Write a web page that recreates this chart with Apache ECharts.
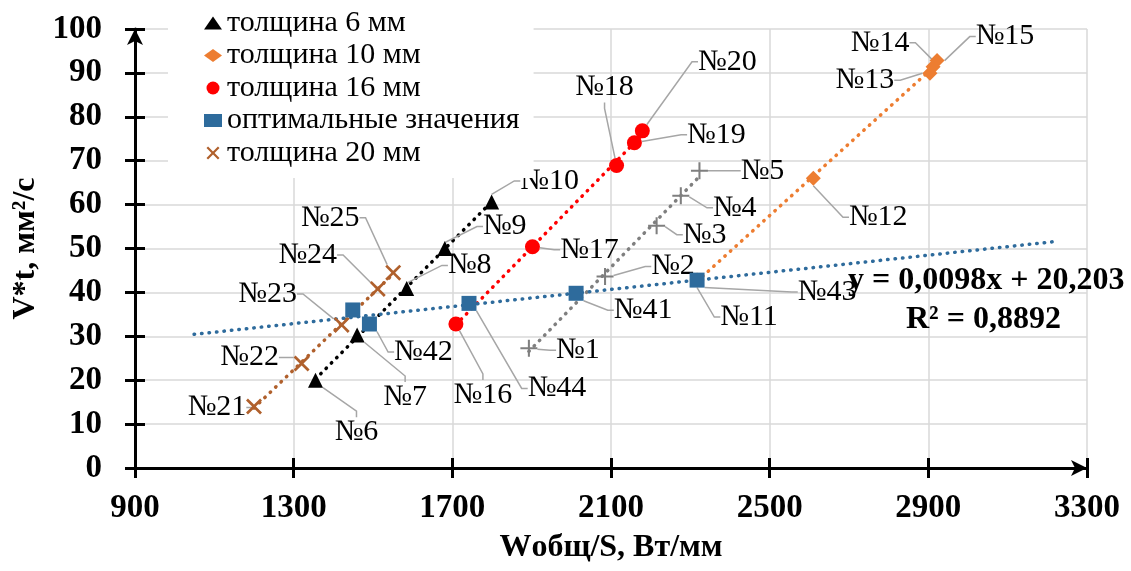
<!DOCTYPE html>
<html><head><meta charset="utf-8">
<script src="https://cdn.jsdelivr.net/npm/echarts@6/dist/echarts.min.js"></script>
<style>html,body{margin:0;padding:0;background:#fff}#c{width:1131px;height:571px}</style>
</head><body><div id="c"></div>
<script>
// ---- data ----
const xTicks = [900, 1300, 1700, 2100, 2500, 2900, 3300];
const yTicks = [0, 10, 20, 30, 40, 50, 60, 70, 80, 90, 100];

const t6X = [1355, 1460, 1585, 1681, 1799];
const t6Y = [20.0, 30.3, 40.9, 50.0, 60.6];
const t6L = ['№6', '№7', '№8', '№9', '№10'];

const t10X = [2317, 2610, 2904, 2912, 2922];
const t10Y = [42.8, 66.0, 89.9, 91.4, 92.8];
const t10L = ['№11', '№12', '№13', '№14', '№15'];

const t16X = [1709, 1902, 2114, 2159, 2179];
const t16Y = [32.8, 50.4, 68.9, 74.1, 76.8];
const t16L = ['№16', '№17', '№18', '№19', '№20'];

const optX = [1449, 1491, 1742, 2012, 2317];
const optY = [36.0, 32.8, 37.5, 39.8, 42.8];
const optL = ['', '№42', '№44', '№41', '№43'];

const t20X = [1200, 1320, 1421, 1512, 1551];
const t20Y = [14.0, 23.8, 32.6, 40.8, 44.5];
const t20L = ['№21', '№22', '№23', '№24', '№25'];

const grX = [1893, 2085, 2215, 2276, 2323];
const grY = [27.3, 43.6, 55.2, 62.0, 67.7];
const grL = ['№1', '№2', '№3', '№4', '№5'];

const names = ['толщина 6 мм', 'толщина 10 мм', 'толщина 16 мм', 'оптимальные значения', 'толщина 20 мм'];

// ---- layout (label offsets in px, relative to the marker) ----
const offs = {
  t6: [[41, 52], [48, 62], [63, -23], [60, -22], [58, -21]],
  t10: [[52, 37], [65, 39], [-65, 7], [-53, -24], [68, -24]],
  t16: [[27, 71], [57, 3], [-12, -78], [82, -8], [85, -69]],
  opt: [[0, 0], [54, 28], [88, 85], [67, 17], [130, 12]],
  t20: [[-37, 1], [-52, -6], [-74, -31], [-70, -34], [-63, -55]],
  gr: [[49, 2], [68, -10], [48, 9], [54, 12], [63, 0]]
};

const SERIF = '"Liberation Serif", "Times New Roman", serif';
const xPath = 'path://M0,1.2L1.2,0L5,3.8L8.8,0L10,1.2L6.2,5L10,8.8L8.8,10L5,6.2L1.2,10L0,8.8L3.8,5Z';
const plusPath = 'path://M4.4,0H5.6V4.4H10V5.6H5.6V10H4.4V5.6H0V4.4H4.4Z';

function fit(xs, ys) {
  const n = xs.length;
  const mx = xs.reduce((a, b) => a + b, 0) / n;
  const my = ys.reduce((a, b) => a + b, 0) / n;
  let sxy = 0, sxx = 0;
  for (let i = 0; i < n; i++) { sxy += (xs[i] - mx) * (ys[i] - my); sxx += (xs[i] - mx) * (xs[i] - mx); }
  const k = sxy / sxx, b = my - k * mx;
  return {k, b};
}
function trend(xs, ys, color, back, fwd) {
  const f = fit(xs, ys);
  const x0 = Math.min(...xs) - (back || 0), x1 = Math.max(...xs) + (fwd || 0);
  return {
    type: 'line', silent: true, showSymbol: false, symbol: 'none', z: 1,
    data: [[x0, f.k * x0 + f.b], [x1, f.k * x1 + f.b]],
    lineStyle: {color: color, width: 3.5, type: [0.5, 7], cap: 'round'}
  };
}
function scatter(name, xs, ys, labels, off, symbol, size, color, z) {
  return {
    type: 'scatter', name: name, symbol: symbol, symbolSize: size, z: z,
    itemStyle: {color: color, opacity: 1},
    data: xs.map((x, i) => ({
      value: [x, ys[i]], name: labels[i],
      label: {show: labels[i] !== ''}, labelLine: {show: labels[i] !== ''}
    })),
    label: {show: true, position: 'inside', formatter: p => p.name, color: '#000',
      fontFamily: SERIF, fontSize: 30},
    labelLine: {show: true, length2: 6, lineStyle: {color: '#A6A6A6', width: 1.5}},
    labelLayout: function (p) {
      const o = off[p.dataIndex];
      return {x: p.rect.x + p.rect.width / 2 + o[0], y: p.rect.y + p.rect.height / 2 + o[1],
        align: 'center', verticalAlign: 'middle', hideOverlap: false};
    }
  };
}

const C6 = '#000000', C10 = '#ED7D31', C16 = '#FF0000', COPT = '#2E6B9C', C20 = '#B0602C', CGR = '#7F7F7F';

const chart = echarts.init(document.getElementById('c'), null, {renderer: 'canvas'});
const axisLbl = {fontFamily: SERIF, fontWeight: 'bold', fontSize: 33, color: '#000', formatter: v => String(v)};
chart.setOption({
  animation: false,
  backgroundColor: '#fff',
  grid: {left: 135, right: 44, top: 29, bottom: 103, containLabel: false},
  legend: {
    data: names, orient: 'vertical', left: 168, top: 0,
    padding: [8, 14, 10, 36], backgroundColor: '#fff', itemGap: 2.5,
    itemWidth: 18, itemHeight: 13,
    textStyle: {fontFamily: SERIF, fontSize: 30, lineHeight: 30, color: '#000'},
    z: 20
  },
  xAxis: [{
    type: 'value', min: xTicks[0], max: xTicks[xTicks.length - 1], interval: 400,
    name: 'Wобщ/S, Вт/мм', nameLocation: 'middle', nameGap: 64,
    nameTextStyle: {fontFamily: SERIF, fontWeight: 'bold', fontSize: 32, color: '#000'},
    axisLine: {onZero: false, lineStyle: {color: '#000', width: 3}, symbol: ['none', 'arrow'], symbolSize: [12, 16]},
    axisTick: {show: true, length: 10, lineStyle: {color: '#000', width: 3}},
    axisLabel: Object.assign({margin: 24}, axisLbl),
    splitLine: {show: true, lineStyle: {color: '#D9D9D9', width: 1.5}}
  }, {
    type: 'value', min: xTicks[0], max: xTicks[xTicks.length - 1], interval: 400, position: 'bottom',
    axisLine: {show: false, onZero: false}, axisLabel: {show: false}, splitLine: {show: false},
    axisTick: {show: true, inside: true, length: 10, lineStyle: {color: '#000', width: 3}}
  }],
  yAxis: [{
    type: 'value', min: yTicks[0], max: yTicks[yTicks.length - 1], interval: 10,
    name: 'V*t, мм²/с', nameLocation: 'middle', nameGap: 88,
    nameTextStyle: {fontFamily: SERIF, fontWeight: 'bold', fontSize: 32, color: '#000'},
    axisLine: {show: true, onZero: false, lineStyle: {color: '#000', width: 3}, symbol: ['none', 'arrow'], symbolSize: [12, 16]},
    axisTick: {show: true, length: 10, lineStyle: {color: '#000', width: 3}},
    axisLabel: Object.assign({margin: 33}, axisLbl),
    splitLine: {show: true, lineStyle: {color: '#D9D9D9', width: 1.5}}
  }, {
    type: 'value', min: yTicks[0], max: yTicks[yTicks.length - 1], interval: 10, position: 'left',
    axisLine: {show: false, onZero: false}, axisLabel: {show: false}, splitLine: {show: false},
    axisTick: {show: true, inside: true, length: 10, lineStyle: {color: '#000', width: 3}}
  }],
  series: [
    trend(grX, grY, CGR),
    trend(t6X, t6Y, C6),
    trend(t20X, t20Y, C20),
    trend(t16X, t16Y, C16),
    trend(t10X, t10Y, C10),
    trend(optX, optY, COPT, 400, 900),
    scatter('серия 1', grX, grY, grL, offs.gr, plusPath, 17, CGR, 3),
    scatter(names[0], t6X, t6Y, t6L, offs.t6, 'triangle', 15, C6, 3),
    scatter(names[4], t20X, t20Y, t20L, offs.t20, xPath, 16, C20, 3),
    scatter(names[2], t16X, t16Y, t16L, offs.t16, 'circle', 15, C16, 3),
    scatter(names[1], t10X, t10Y, t10L, offs.t10, 'diamond', 15, C10, 3),
    scatter(names[3], optX, optY, optL, offs.opt, 'rect', 15, COPT, 4)
  ],
  graphic: [
    {type: 'text', left: 848, top: 265, z: 30,
      style: {text: 'y = 0,0098x + 20,203', font: 'bold 32px ' + SERIF, fill: '#000'}},
    {type: 'text', left: 906, top: 304, z: 30,
      style: {text: 'R² = 0,8892', font: 'bold 32px ' + SERIF, fill: '#000'}}
  ]
});
</script>
</body></html>
